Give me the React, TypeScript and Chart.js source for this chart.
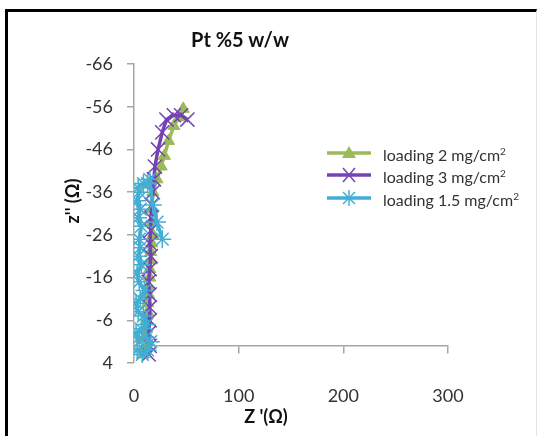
import React, { useEffect, useRef } from "react";
import { Chart, registerables } from "chart.js";

Chart.register(...registerables);

const chartTitle = "Pt %5 w/w";
const xTitle = "Z '(Ω)";
const yTitle = "z'' (Ω)";

const yTicks = [-66, -56, -46, -36, -26, -16, -6, 4];
const xTicks = [0, 100, 200, 300];

const seriesNames = ["loading 2 mg/cm", "loading 3 mg/cm", "loading 1.5 mg/cm"];
const seriesColors = ["#9BBB59", "#7443B3", "#42AED3"];

const greenX = [9, 11, 10, 12, 12, 13, 13, 14, 14, 15, 15, 16, 16, 17, 18, 17, 17, 18, 22, 26, 29, 33, 38, 43, 47];
const greenY = [2, 0, -2, -4, -6, -8, -10, -12, -14, -16, -18, -20, -22, -24, -26, -29, -32, -36, -39, -42, -44.5, -48, -51.5, -53.5, -55.5];

const purpleX = [14, 15, 14, 15, 15, 15, 14, 15, 16, 15, 16, 16, 17, 18, 19, 20, 23, 27, 31, 38, 45, 51];
const purpleY = [2, 0, -3, -6, -9, -12, -15, -18, -21, -24, -27, -30, -33, -36, -39, -42, -46, -50, -53, -54, -54, -53];

const cyanX = [3, 8, 13, 16, 11, 5, 2, 7, 12, 9, 4, 2, 6, 10, 5, 3, 7, 4, 6, 5, 7, 4, 6, 3, 5, 4, 9, 13, 15, 18, 22, 27];
const cyanY = [1, 2, 1, -1, -2, -1, -3, -4, -5, -7, -8, -10, -11, -13, -15, -17, -19, -21, -23, -25, -28, -30, -32, -34, -36, -37, -38, -38, -39, -33, -29, -25];

const toPoints = (xs: number[], ys: number[]) => xs.map((x, i) => ({ x, y: ys[i] }));

const FONT = "Lato, 'Open Sans', sans-serif";

function LegendMark({ kind, color }: { kind: string; color: string }) {
  return (
    <svg width={48} height={16} style={{ display: "block" }}>
      <line x1={2} y1={8} x2={46} y2={8} stroke={color} strokeWidth={3.5} />
      {kind === "tri" && <polygon points="24,1 31,13 17,13" fill={color} />}
      {kind === "x" && (
        <g stroke={color} strokeWidth={1.5}>
          <line x1={18} y1={1} x2={30} y2={15} />
          <line x1={30} y1={1} x2={18} y2={15} />
        </g>
      )}
      {kind === "star" && (
        <g stroke={color} strokeWidth={1.5}>
          <line x1={18} y1={2} x2={30} y2={14} />
          <line x1={30} y1={2} x2={18} y2={14} />
          <line x1={24} y1={0} x2={24} y2={16} />
        </g>
      )}
    </svg>
  );
}

export default function App() {
  const canvasRef = useRef<HTMLCanvasElement | null>(null);

  useEffect(() => {
    if (!canvasRef.current) return;
    const tickFont = { family: FONT, size: 18 };
    const chart = new Chart(canvasRef.current, {
      type: "scatter",
      data: {
        datasets: [
          {
            label: seriesNames[0],
            data: toPoints(greenX, greenY),
            showLine: true,
            borderColor: seriesColors[0],
            backgroundColor: seriesColors[0],
            borderWidth: 3.5,
            pointStyle: "triangle",
            pointRadius: 7,
            pointBorderWidth: 1,
            order: 2,
          },
          {
            label: seriesNames[1],
            data: toPoints(purpleX, purpleY),
            showLine: true,
            borderColor: seriesColors[1],
            backgroundColor: seriesColors[1],
            borderWidth: 3.5,
            pointStyle: "crossRot",
            pointRadius: 10,
            pointBorderWidth: 1.5,
            order: 1,
          },
          {
            label: seriesNames[2],
            data: toPoints(cyanX, cyanY),
            showLine: true,
            borderColor: seriesColors[2],
            backgroundColor: seriesColors[2],
            borderWidth: 3.5,
            pointStyle: "star",
            pointRadius: 9,
            pointBorderWidth: 1.5,
            order: 0,
          },
        ],
      },
      options: {
        animation: false,
        responsive: false,
        events: [],
        layout: { padding: { left: 40, right: 91, top: 64, bottom: 33 } },
        plugins: { legend: { display: false }, tooltip: { enabled: false }, title: { display: false } },
        scales: {
          x: {
            type: "linear",
            position: "bottom",
            min: 0,
            max: 300,
            afterBuildTicks: (s: any) => {
              s.ticks = xTicks.map((v) => ({ value: v }));
            },
            afterFit: (s: any) => {
              s.height = 40;
            },
            grid: { display: false, drawTicks: false },
            border: { display: false },
            ticks: { font: tickFont, color: "#333", padding: 22 },
          },
          x2: {
            type: "linear",
            axis: "x",
            position: { y: 0 } as any,
            min: 0,
            max: 300,
            afterBuildTicks: (s: any) => {
              s.ticks = xTicks.map((v) => ({ value: v }));
            },
            afterFit: (s: any) => {
              s.height = 0;
            },
            grid: { display: true, drawOnChartArea: false, drawTicks: true, tickLength: 7, color: "#a6a6a6", lineWidth: 1.5 },
            border: { display: true, color: "#a6a6a6", width: 1.5 },
            ticks: { display: false },
          },
          y: {
            type: "linear",
            position: "left",
            reverse: true,
            min: -66,
            max: 4,
            afterBuildTicks: (s: any) => {
              s.ticks = yTicks.map((v) => ({ value: v }));
            },
            afterFit: (s: any) => {
              s.width = 94;
            },
            grid: { display: true, drawOnChartArea: false, drawTicks: true, tickLength: 7, color: "#a6a6a6", lineWidth: 1.5 },
            border: { display: true, color: "#a6a6a6", width: 1.5 },
            ticks: { font: tickFont, color: "#333", padding: 14 },
          },
        },
      },
    } as any);
    return () => chart.destroy();
  }, []);

  const legendKinds = ["tri", "x", "star"];
  const legendTops = [144, 166, 189];

  return (
    <div style={{ position: "fixed", left: 0, top: 0, width: 539, height: 436, background: "#fff", overflow: "hidden", fontFamily: FONT }}>
      <canvas ref={canvasRef} width={539} height={436} style={{ position: "absolute", left: 0, top: 0, width: 539, height: 436 }} />
      <div style={{ position: "absolute", left: 5, top: 9, right: 2, bottom: -5, borderTop: "3px solid #000", borderLeft: "3px solid #000", borderRight: "1px solid #e4e4e4", pointerEvents: "none" }} />
      <div style={{ position: "absolute", left: 140, width: 200, top: 26, textAlign: "center", fontWeight: 700, fontSize: 20, color: "#111", lineHeight: "26px" }}>{chartTitle}</div>
      <div style={{ position: "absolute", left: 216, width: 100, top: 405, textAlign: "center", fontWeight: 700, fontSize: 18, color: "#111", lineHeight: "22px" }}>{xTitle}</div>
      <div style={{ position: "absolute", left: 72 - 50, top: 201 - 11, width: 100, textAlign: "center", fontWeight: 700, fontSize: 18, color: "#111", lineHeight: "22px", transform: "rotate(-90deg)" }}>{yTitle}</div>
      {seriesNames.map((name, i) => (
        <div key={name} style={{ position: "absolute", left: 325, top: legendTops[i], display: "flex", alignItems: "center", height: 18 }}>
          <LegendMark kind={legendKinds[i]} color={seriesColors[i]} />
          <span style={{ marginLeft: 10, fontSize: 16, color: "#333", whiteSpace: "nowrap", lineHeight: "18px" }}>
            {name}
            <sup style={{ fontSize: 10 }}>2</sup>
          </span>
        </div>
      ))}
    </div>
  );
}
